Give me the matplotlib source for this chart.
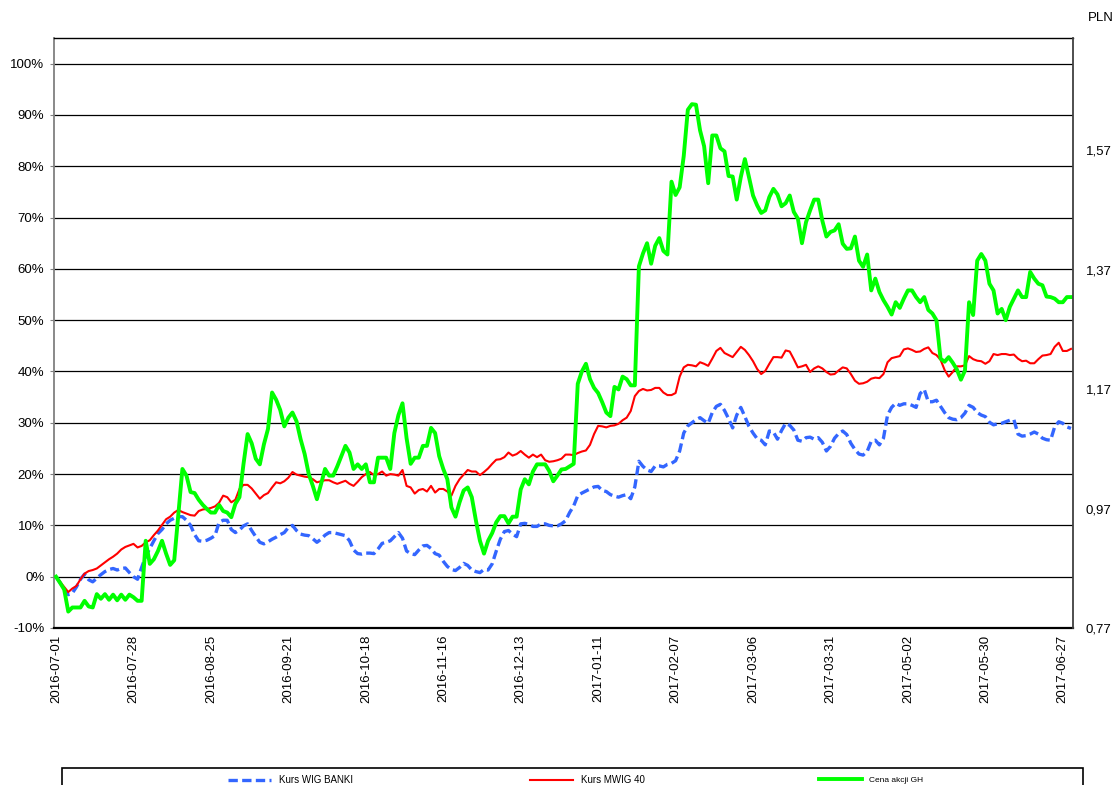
"""
WIG BANKI / mWIG40 vs GH share price, 2016-07-01 .. 2017-06-29.
"""
import numpy as np
import matplotlib
matplotlib.use("Agg")
import matplotlib.pyplot as plt
from matplotlib.patches import Rectangle
from matplotlib.ticker import FuncFormatter

plt.rcParams['font.family'] = ['Liberation Sans', 'DejaVu Sans']

# % change since 2016-07-01, one value per trading day
wig_banki = [
    0, -1.2, -2.4, -3.5, -3.2, -2.0, -0.5, 0.5, -0.6, -1.0,
    -0.3, 0.4, 1.0, 1.4, 1.6, 1.3, 1.6, 1.7, 0.8, 0.0,
    -0.5, 1.8, 4.0, 5.5, 7.0, 8.4, 9.2, 10.3, 11.0, 11.4,
    11.7, 11.7, 11.0, 10.0, 8.2, 7.0, 6.9, 7.1, 7.5, 8.0,
    10.6, 11.0, 11.0, 9.2, 8.6, 9.1, 9.9, 10.3, 9.0, 7.8,
    6.7, 6.4, 6.8, 7.3, 7.7, 8.2, 8.6, 9.6, 10.0, 9.0,
    8.3, 8.1, 8.0, 7.4, 6.7, 7.3, 8.1, 8.6, 8.6, 8.4,
    8.2, 8.0, 7.0, 5.2, 4.5, 4.4, 4.6, 4.6, 4.5, 5.4,
    6.5, 6.7, 7.0, 7.8, 8.6, 7.5, 5.0, 4.5, 4.3, 5.2,
    6.0, 6.1, 5.5, 4.5, 4.2, 3.0, 2.0, 1.4, 1.2, 1.8,
    2.6, 2.2, 1.3, 1.0, 0.8, 1.4, 1.3, 2.5, 5.0, 7.3,
    8.8, 9.0, 8.3, 7.8, 10.3, 10.4, 10.2, 9.8, 9.8, 10.3,
    10.3, 10.0, 9.9, 9.9, 10.3, 10.9, 12.5, 13.8, 15.8, 16.3,
    16.7, 17.1, 17.5, 17.6, 16.8, 16.6, 16.0, 15.7, 15.5, 15.8,
    16.0, 15.2, 17.5, 22.5, 21.5, 20.8, 20.5, 21.6, 21.6, 21.4,
    21.9, 22.1, 22.6, 24.5, 28.0, 29.4, 30.0, 30.6, 31.0, 30.4,
    29.9, 32.0, 33.2, 33.6, 32.4, 30.8, 29.0, 31.5, 33.0, 31.2,
    29.3, 28.0, 26.9, 26.6, 25.7, 28.4, 28.2, 26.8, 28.5, 29.9,
    29.5, 28.6, 26.6, 26.4, 27.1, 27.2, 26.8, 27.1, 26.2, 24.5,
    25.4, 27.0, 27.9, 28.4, 27.7, 26.0, 24.8, 23.9, 23.7, 24.4,
    26.4, 26.6, 25.7, 27.0, 31.5, 33.0, 33.8, 33.4, 33.7, 33.7,
    33.4, 33.0, 35.7, 36.5, 34.1, 34.1, 34.4, 33.2, 32.0, 31.0,
    30.7, 30.6, 31.0, 31.9, 33.4, 33.0, 32.0, 31.5, 31.2, 30.1,
    29.6, 29.8, 29.9, 30.2, 30.5, 30.6, 27.8, 27.4, 27.5, 27.8,
    28.2, 27.8, 27.0, 26.7, 26.6, 29.2, 30.2, 29.9, 29.2, 28.9,
]

mwig40 = [
    0, -1.0, -2.0, -3.0, -2.3, -1.8, -0.5, 0.6, 1.1, 1.3,
    1.6, 2.2, 2.8, 3.4, 3.9, 4.5, 5.3, 5.8, 6.1, 6.4,
    5.7, 6.0, 6.7, 7.1, 8.1, 9.0, 10.1, 11.2, 11.7, 12.5,
    13.0, 12.6, 12.3, 12.0, 11.9, 12.8, 13.1, 13.2, 13.4, 13.7,
    14.4, 15.8, 15.5, 14.5, 15.0, 17.1, 17.9, 17.9, 17.2, 16.2,
    15.2, 15.9, 16.3, 17.4, 18.4, 18.2, 18.6, 19.3, 20.4, 19.9,
    19.7, 19.5, 19.4, 19.0, 18.4, 18.6, 18.8, 18.8, 18.4, 18.1,
    18.4, 18.7, 18.1, 17.7, 18.5, 19.4, 20.0, 20.4, 19.8, 20.0,
    20.5, 19.7, 20.0, 19.9, 19.7, 20.8, 17.7, 17.4, 16.2, 16.9,
    17.1, 16.6, 17.7, 16.4, 17.1, 17.1, 16.6, 15.8, 17.7, 19.0,
    19.9, 20.8, 20.5, 20.5, 19.8, 20.4, 21.1, 22.0, 22.8, 22.9,
    23.3, 24.2, 23.6, 23.9, 24.5, 23.8, 23.2, 23.8, 23.3, 23.8,
    22.7, 22.4, 22.5, 22.7, 23.0, 23.8, 23.8, 23.7, 24.1, 24.4,
    24.6, 25.7, 27.8, 29.4, 29.3, 29.1, 29.4, 29.5, 29.8, 30.5,
    31.0, 32.3, 35.2, 36.2, 36.6, 36.3, 36.4, 36.8, 36.8, 35.9,
    35.4, 35.4, 35.8, 39.0, 40.8, 41.3, 41.2, 41.0, 41.8, 41.5,
    41.1, 42.5, 44.0, 44.6, 43.6, 43.2, 42.8, 43.8, 44.8, 44.2,
    43.2, 42.0, 40.5, 39.5, 40.1, 41.5, 42.8, 42.8, 42.7, 44.1,
    43.9, 42.4, 40.8, 41.0, 41.3, 39.9, 40.6, 41.0, 40.6, 39.9,
    39.4, 39.5, 40.2, 40.8, 40.6, 39.5, 38.2, 37.6, 37.7, 38.0,
    38.6, 38.8, 38.7, 39.5, 41.8, 42.6, 42.8, 43.0, 44.3, 44.5,
    44.2, 43.8, 43.9, 44.4, 44.7, 43.6, 43.2, 42.3, 40.3, 39.0,
    39.9, 41.0, 41.0, 41.2, 43.0, 42.4, 42.1, 42.0, 41.5, 42.0,
    43.4, 43.2, 43.4, 43.4, 43.2, 43.3, 42.5, 42.0, 42.1, 41.6,
    41.6, 42.4, 43.1, 43.2, 43.4, 44.8, 45.6, 44.0, 44.0, 44.4,
]

gh_price = [
    0, -1.2, -2.5, -6.8, -6.0, -6.0, -6.0, -4.7, -5.8, -6.0,
    -3.4, -4.3, -3.4, -4.5, -3.5, -4.6, -3.5, -4.5, -3.5, -4.0,
    -4.7, -4.7, 7.0, 2.5, 3.4, 5.0, 7.0, 4.5, 2.3, 3.2,
    12.0, 21.0, 19.7, 16.5, 16.3, 15.0, 14.0, 13.2, 12.5, 12.5,
    14.0, 12.8, 12.5, 11.6, 14.2, 15.5, 22.0, 27.8, 26.0, 23.0,
    21.9, 25.8, 28.8, 35.9, 34.5, 32.5, 29.3, 31.0, 32.0, 30.3,
    26.8, 23.9, 20.0, 17.7, 15.1, 18.0, 21.0, 19.7, 19.7, 21.5,
    23.5, 25.5, 24.2, 21.0, 21.9, 21.0, 21.9, 18.4, 18.4, 23.2,
    23.2, 23.2, 21.0, 28.0, 31.5, 33.8, 27.0, 22.0, 23.2, 23.2,
    25.5, 25.5, 29.0, 28.0, 23.5, 21.0, 19.0, 13.5, 11.7, 14.5,
    16.8, 17.4, 15.5, 11.0, 7.0, 4.5, 7.0, 8.5, 10.6, 11.8,
    11.8, 10.4, 11.7, 11.7, 17.0, 19.0, 18.0, 20.5, 21.9, 21.9,
    21.9, 20.6, 18.6, 19.7, 20.9, 21.0, 21.5, 22.0, 37.6, 40.0,
    41.5, 38.5, 36.8, 35.8, 34.0, 32.0, 31.3, 37.0, 36.5, 39.0,
    38.5, 37.3, 37.3, 60.5, 63.0, 65.0, 61.0, 64.5, 66.0, 63.5,
    62.8, 77.0, 74.4, 75.9, 82.0, 91.0, 92.1, 92.0, 87.0, 83.9,
    76.7, 86.0, 86.0, 83.5, 82.9, 78.1, 78.0, 73.5, 77.9, 81.4,
    77.9, 74.3, 72.4, 70.9, 71.4, 74.0, 75.6, 74.5, 72.2, 72.8,
    74.3, 71.1, 69.8, 65.0, 69.1, 71.4, 73.5, 73.5, 69.4, 66.3,
    67.2, 67.5, 68.7, 64.9, 63.9, 64.0, 66.3, 61.6, 60.4, 62.8,
    55.8, 58.1, 55.5, 53.9, 52.6, 51.1, 53.5, 52.4, 54.2, 55.8,
    55.8, 54.5, 53.5, 54.5, 52.0, 51.3, 50.0, 42.5, 41.9, 42.8,
    41.7, 40.4, 38.4, 40.2, 53.5, 51.0, 61.6, 62.9, 61.6, 57.1,
    55.8, 51.3, 52.2, 50.0, 52.6, 54.2, 55.8, 54.5, 54.5, 59.4,
    58.1, 57.1, 56.8, 54.6, 54.5, 54.2, 53.5, 53.5, 54.5, 54.5,
]

date_labels = ['2016-07-01', '2016-07-28', '2016-08-25', '2016-09-21', '2016-10-18',
               '2016-11-16', '2016-12-13', '2017-01-11', '2017-02-07', '2017-03-06',
               '2017-03-31', '2017-05-02', '2017-05-30', '2017-06-27']
pln_ticks = [0.77, 0.97, 1.17, 1.37, 1.57]

x = np.arange(len(wig_banki))

fig = plt.figure(figsize=(11.18, 7.85), dpi=100)
ax = fig.add_axes([54/1118, 157/785, 1019/1118, 590/785])

l1, = ax.plot(x, wig_banki, color='#3366ff', lw=2.4, dashes=(2.8, 1.3),
              label='Kurs WIG BANKI', zorder=3)
l2, = ax.plot(x, mwig40, color='#ff0000', lw=1.5, label='Kurs MWIG 40', zorder=4)
l3, = ax.plot(x, gh_price, color='#00ff00', lw=2.8, label='Cena akcji GH', zorder=5)

ax.set_xlim(-0.5, len(x) - 0.5)
ax.set_ylim(-10, 105)
ax.set_yticks(np.arange(-10, 101, 10))
ax.yaxis.set_major_formatter(FuncFormatter(lambda v, p: f'{v:.0f}%'))
ax.set_xticks(np.arange(0, len(x), 19))
ax.set_xticklabels(date_labels, rotation=90)
ax.yaxis.grid(True, color='black', lw=0.9)
ax.set_axisbelow(True)

ax.tick_params(axis='y', direction='out', length=3, color='#808080',
               labelsize=9.5, pad=4)
ax.tick_params(axis='x', length=0, labelsize=9.5, pad=5)
ax.spines['left'].set_color('#808080')
ax.spines['left'].set_linewidth(1.3)
ax.spines['bottom'].set_linewidth(1.6)
ax.spines['top'].set_linewidth(1.0)
ax.spines['right'].set_visible(False)

# right axis in PLN
ax2 = ax.twinx()
ax2.set_ylim(0.77, 1.7575)
ax2.set_yticks(pln_ticks)
ax2.yaxis.set_major_formatter(FuncFormatter(lambda v, p: f'{v:.2f}'.replace('.', ',')))
ax2.tick_params(axis='y', length=0, labelsize=9.5, pad=9)
ax2.spines['right'].set_color('#404040')
ax2.spines['right'].set_linewidth(1.3)
for s in ['left', 'top', 'bottom']:
    ax2.spines[s].set_visible(False)

fig.text(1101/1118, 1 - 18/785, 'PLN', ha='center', va='center', fontsize=9.5)

# legend: one box at the bottom, three entries
fig.add_artist(Rectangle((62/1118, -0.02), 1021/1118, 17/785 + 0.02,
                         transform=fig.transFigure, fill=False,
                         edgecolor='black', lw=1.2))
for line, x0, fs in [(l1, 228, 7), (l2, 530, 7), (l3, 819, 6)]:
    fig.legend(handles=[line], loc='center left', bbox_to_anchor=(x0/1118, 5/785),
               frameon=False, fontsize=fs, handlelength=43/(fs*1.389),
               handletextpad=0.8, borderpad=0, borderaxespad=0)

fig.savefig('out.png', dpi=100)
